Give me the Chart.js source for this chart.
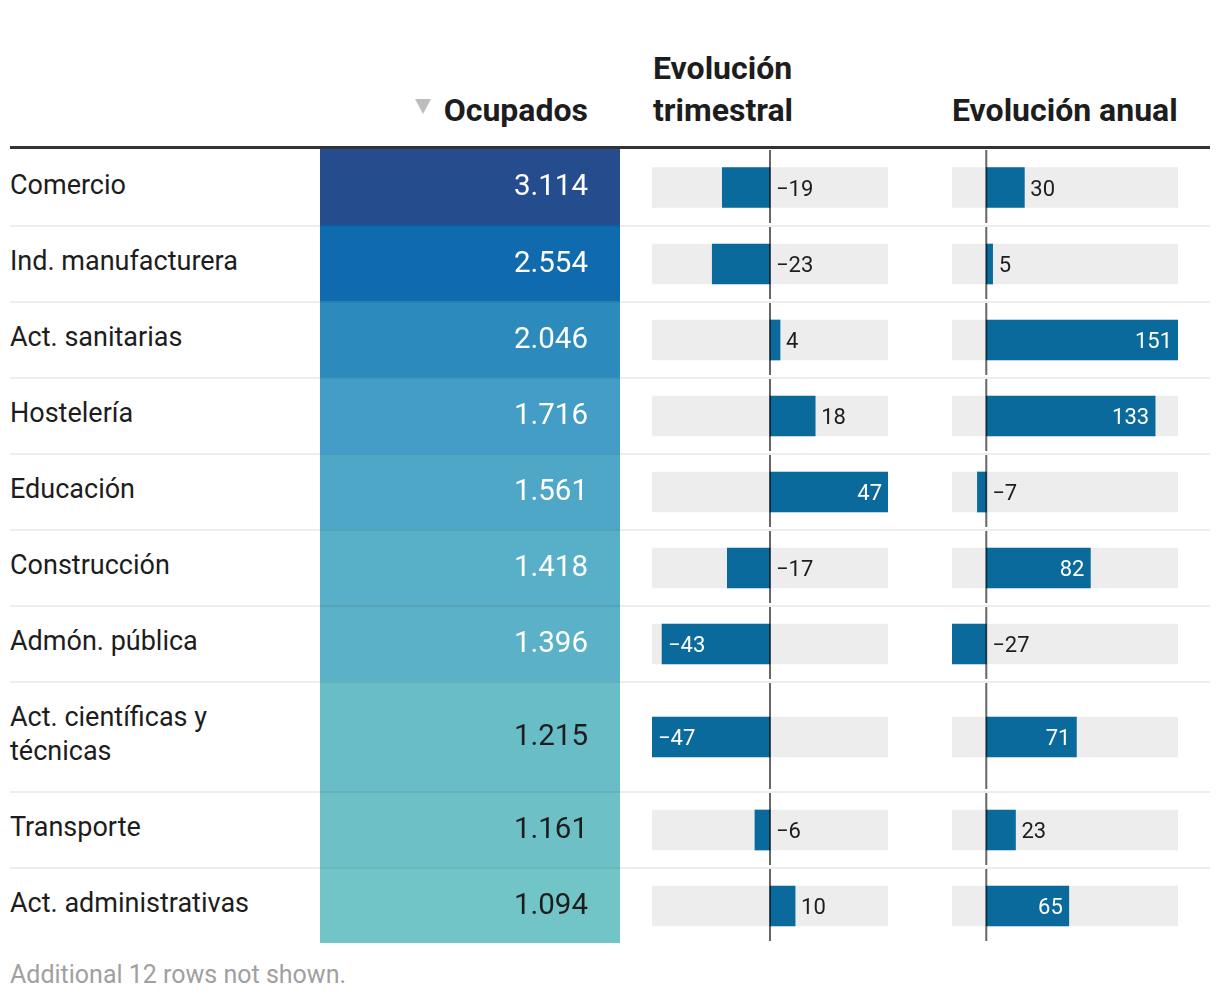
<!DOCTYPE html>
<html>
<head>
<meta charset="utf-8">
<script src="https://cdn.jsdelivr.net/npm/chart.js@4/dist/chart.umd.min.js"></script>
<style>
  body { margin:0; background:#fff; font-family: Roboto, "Noto Sans", sans-serif; color:#1d1d1d; }
  #wrap { position:relative; width:1220px; height:1004px; overflow:hidden; }
  .hdr { position:absolute; font-weight:700; font-size:32px; line-height:42px; color:#1d1d1d; white-space:nowrap; }
  #tri { position:absolute; left:415px; top:99px; width:0; height:0; border-left:8px solid transparent; border-right:8px solid transparent; border-top:15px solid #bdbdbd; }
  #rule { position:absolute; left:10px; top:146px; width:1200px; height:3px; background:#333; }
  #tbody { position:absolute; left:0; top:149px; width:1220px; }
  .row { position:relative; width:1220px; }
  .lab { position:relative; margin-left:10px; width:290px; font-size:27px; line-height:34px; padding:19px 0 23px 0; z-index:2; }
  .sep { position:absolute; left:10px; width:1200px; top:0; height:2px; background:rgba(0,0,0,0.07); z-index:5; }
  .cell { position:absolute; }
  #foot { position:absolute; left:10px; font-size:25px; line-height:30px; color:#a0a0a0; }
</style>
</head>
<body>
<div id="wrap">
  <div id="tri"></div>
  <div class="hdr" id="h1" style="right:632px; top:89px;"></div>
  <div class="hdr" id="h2" style="left:653px; top:47px;"></div>
  <div class="hdr" id="h3" style="left:952px; top:89px;"></div>
  <div id="rule"></div>
  <div id="tbody"></div>
  <div id="foot"></div>
</div>
<script>
// ---- data ----
const categories = ["Comercio","Ind. manufacturera","Act. sanitarias","Hostelería","Educación","Construcción","Admón. pública","Act. científicas y técnicas","Transporte","Act. administrativas"];
const ocupados = [3114,2554,2046,1716,1561,1418,1396,1215,1161,1094];
const evolTrimestral = [-19,-23,4,18,47,-17,-43,-47,-6,10];
const evolAnual = [30,5,151,133,-7,82,-27,71,23,65];
const columnTitles = ["Ocupados","Evolución<br>trimestral","Evolución anual"];
const footnote = "Additional 12 rows not shown.";

// ---- styles ----
const BAR_COLOR = "#0a6a9b";
const BG_COLOR = "#ededed";
const colorStops = [[1094,"#72c5c6"],[1396,"#5ab1c8"],[1716,"#439dc6"],[2046,"#2c8abd"],[2554,"#0f6aae"],[3114,"#254c8c"]];

function hex2rgb(h){ return [1,3,5].map(i=>parseInt(h.substr(i,2),16)); }
function heatColor(v){
  for (let i=0;i<colorStops.length-1;i++){
    const [a,ca]=colorStops[i],[b,cb]=colorStops[i+1];
    if (v<=b || i===colorStops.length-2){
      const t=Math.max(0,Math.min(1,(v-a)/(b-a)));
      const A=hex2rgb(ca),B=hex2rgb(cb);
      return "rgb("+A.map((x,k)=>Math.round(x+(B[k]-x)*t)).join(",")+")";
    }
  }
}
function lum(rgbStr){
  const c=rgbStr.match(/\d+/g).map(Number).map(x=>{x/=255;return x<=0.03928?x/12.92:Math.pow((x+0.055)/1.055,2.4);});
  return 0.2126*c[0]+0.7152*c[1]+0.0722*c[2];
}
function fmtThousands(v){ return String(v).replace(/\B(?=(\d{3})+(?!\d))/g,"."); }
function fmtSigned(v){ return (v<0?"\u2212":"")+Math.abs(v); }

document.getElementById("h1").textContent = columnTitles[0];
document.getElementById("h2").innerHTML = columnTitles[1];
document.getElementById("h3").textContent = columnTitles[2];
document.getElementById("foot").textContent = footnote;

const trimMin = Math.min(...evolTrimestral), trimMax = Math.max(...evolTrimestral);
const anuMin = Math.min(...evolAnual), anuMax = Math.max(...evolAnual);

const tbody = document.getElementById("tbody");
const rowEls = categories.map((c,i)=>{
  const r = document.createElement("div"); r.className="row";
  const lab = document.createElement("div"); lab.className="lab"; lab.textContent=c;
  r.appendChild(lab);
  if (i>0){ const s=document.createElement("div"); s.className="sep"; r.appendChild(s); }
  tbody.appendChild(r);
  return r;
});

function makeCell(row, left, width, top){
  const d=document.createElement("div"); d.className="cell";
  d.style.left=left+"px"; d.style.width=width+"px"; d.style.top=top+"px";
  d.style.height=(row.clientHeight-top)+"px";
  const cv=document.createElement("canvas"); d.appendChild(cv); row.appendChild(d);
  return cv;
}

const baseOpts = {
  indexAxis:"y", responsive:true, maintainAspectRatio:false, animation:false,
  layout:{padding:0}, events:[],
  plugins:{legend:{display:false}, tooltip:{enabled:false}},
};

// heatmap cells
const heatLabelPlugin = {
  id:"heatLabel",
  afterDatasetsDraw(chart){
    const {ctx, chartArea:a} = chart;
    const v = chart.data.datasets[0].rawValue;
    const col = chart.data.datasets[0].backgroundColor;
    const sepOff = chart.data.datasets[0].sepOff;
    ctx.save();
    ctx.font = "29.5px Roboto";
    ctx.fillStyle = lum(col) < 0.4 ? "#ffffff" : "#1d1d1d";
    ctx.textAlign="right"; ctx.textBaseline="middle";
    ctx.fillText(fmtThousands(v), a.right-32, (a.top+sepOff+a.bottom)/2 + 0.5);
    ctx.restore();
  }
};

// bar cells
const barPlugin = {
  id:"barLabels",
  afterDatasetsDraw(chart){
    const {ctx, chartArea:a, scales:{x}} = chart;
    const ds = chart.data.datasets[0];
    const v = ds.data[0];
    const bar = chart.getDatasetMeta(0).data[0];
    const x0 = x.getPixelForValue(0);
    // zero line
    ctx.save();
    ctx.strokeStyle="rgba(0,0,0,0.6)"; ctx.lineWidth=2;
    ctx.beginPath(); ctx.moveTo(x0, a.top); ctx.lineTo(x0, a.bottom-2); ctx.stroke();
    // label
    const xv = x.getPixelForValue(v);
    const w = Math.abs(xv-x0);
    const inside = w >= 0.3*(a.right-a.left);
    ctx.font="22px Roboto"; ctx.textBaseline="middle";
    const y = bar.y + 2.5;
    const txt = fmtSigned(v);
    if (inside){
      ctx.fillStyle="#ffffff";
      if (v<0){ ctx.textAlign="left"; ctx.fillText(txt, xv+6, y); }
      else { ctx.textAlign="right"; ctx.fillText(txt, xv-6, y); }
    } else {
      ctx.fillStyle="#1d1d1d"; ctx.textAlign="left";
      ctx.fillText(txt, (v<0? x0 : xv)+6, y);
    }
    ctx.restore();
  }
};

function barChart(cv, value, mn, mx){
  return new Chart(cv, {
    type:"bar",
    data:{ labels:[""], datasets:[
      {data:[value], backgroundColor:BAR_COLOR, barThickness:40, grouped:false, order:1},
      {data:[[mn,mx]], backgroundColor:BG_COLOR, barThickness:40, grouped:false, order:2}
    ]},
    options:Object.assign({}, baseOpts, {
      scales:{ x:{type:"linear", min:mn, max:mx, display:false}, y:{display:false} }
    }),
    plugins:[barPlugin]
  });
}

rowEls.forEach((row,i)=>{
  const sepOff = i>0 ? 2 : 0;
  const col = heatColor(ocupados[i]);
  const hc = makeCell(row, 320, 300, 0);
  new Chart(hc, {
    type:"bar",
    data:{ labels:[""], datasets:[{data:[1], rawValue:ocupados[i], sepOff:sepOff, backgroundColor:col, barPercentage:1, categoryPercentage:1}]},
    options:Object.assign({}, baseOpts, {
      scales:{ x:{type:"linear", min:0, max:1, display:false}, y:{display:false} }
    }),
    plugins:[heatLabelPlugin]
  });
  const tc = makeCell(row, 652, 236, i>0?2:1);
  barChart(tc, evolTrimestral[i], trimMin, trimMax);
  const ac = makeCell(row, 952, 226, i>0?2:1);
  barChart(ac, evolAnual[i], anuMin, anuMax);
});

document.getElementById("foot").style.top = (149 + tbody.offsetHeight + 17) + "px";
</script>
</body>
</html>
